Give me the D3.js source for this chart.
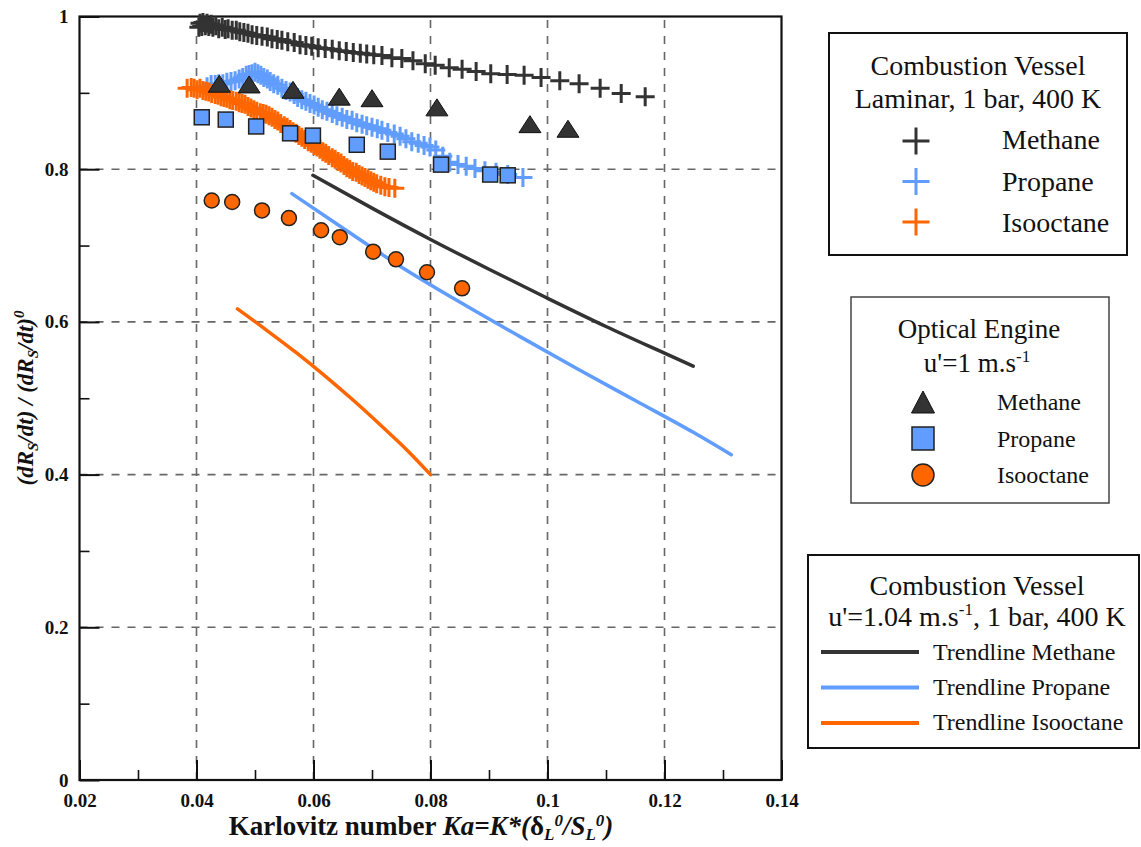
<!DOCTYPE html>
<html><head><meta charset="utf-8">
<script src="https://cdn.jsdelivr.net/npm/d3@7/dist/d3.min.js"></script>
<style>
body{margin:0;background:#fff;}
svg{display:block;font-family:"Liberation Serif","Times New Roman",serif;}
</style></head><body>
<svg id="chart" width="1141" height="847"></svg>
<script>
// ---------------- DATA ----------------
const xTicks = [0.02,0.04,0.06,0.08,0.1,0.12,0.14];
const xTickLabels = ["0.02","0.04","0.06","0.08","0.1","0.12","0.14"];
const xMinorTicks = [0.03,0.05,0.07,0.09,0.11,0.13];
const yTicks = [0,0.2,0.4,0.6,0.8,1];
const yTickLabels = ["0","0.2","0.4","0.6","0.8","1"];
const yMinorTicks = [0.1,0.3,0.5,0.7,0.9];
const xGrid = [0.04,0.06,0.08,0.1,0.12];
const yGrid = [0.2,0.4,0.6,0.8];

// Combustion vessel, laminar (crosses)
const laminarMethane = [[0.0404,0.986],[0.0406,0.991],[0.0409,0.987],[0.0411,0.992],[0.0415,0.988],[0.0418,0.991],[0.0421,0.987],[0.0425,0.990],[0.0428,0.986],[0.0433,0.988],[0.0438,0.984],[0.0444,0.986],[0.0449,0.983],[0.0454,0.984],[0.0461,0.982],[0.0468,0.982],[0.0474,0.980],[0.0481,0.979],[0.0488,0.978],[0.0495,0.976],[0.0503,0.975],[0.0512,0.974],[0.0521,0.973],[0.0529,0.971],[0.0538,0.970],[0.0546,0.969],[0.0556,0.967],[0.0567,0.966],[0.0577,0.963],[0.0587,0.962],[0.0597,0.961],[0.0608,0.959],[0.0620,0.958],[0.0632,0.957],[0.0644,0.955],[0.0656,0.954],[0.0668,0.953],[0.0680,0.952],[0.0691,0.951],[0.0703,0.950],[0.0717,0.949],[0.0734,0.946],[0.0751,0.945],[0.0770,0.942],[0.0791,0.938],[0.0808,0.936],[0.0832,0.933],[0.0854,0.931],[0.0878,0.928],[0.0903,0.925],[0.0931,0.924],[0.0960,0.923],[0.0989,0.920],[0.1021,0.916],[0.1054,0.912],[0.1090,0.906],[0.1126,0.899],[0.1167,0.895]];
const laminarPropane = [[0.0418,0.908],[0.0425,0.911],[0.0432,0.911],[0.0438,0.912],[0.0445,0.912],[0.0452,0.914],[0.0459,0.915],[0.0466,0.916],[0.0473,0.918],[0.0479,0.920],[0.0485,0.923],[0.0490,0.924],[0.0495,0.925],[0.0500,0.927],[0.0505,0.925],[0.0510,0.923],[0.0515,0.920],[0.0521,0.918],[0.0526,0.915],[0.0532,0.912],[0.0539,0.910],[0.0546,0.906],[0.0553,0.903],[0.0560,0.901],[0.0567,0.898],[0.0573,0.894],[0.0580,0.891],[0.0587,0.889],[0.0594,0.886],[0.0601,0.884],[0.0608,0.881],[0.0615,0.878],[0.0623,0.876],[0.0632,0.873],[0.0640,0.870],[0.0649,0.868],[0.0657,0.865],[0.0666,0.864],[0.0674,0.861],[0.0683,0.859],[0.0691,0.857],[0.0700,0.855],[0.0709,0.853],[0.0717,0.851],[0.0727,0.848],[0.0738,0.846],[0.0748,0.843],[0.0758,0.840],[0.0768,0.836],[0.0779,0.834],[0.0789,0.831],[0.0799,0.829],[0.0809,0.825],[0.0821,0.817],[0.0833,0.809],[0.0847,0.806],[0.0861,0.804],[0.0876,0.801],[0.0893,0.798],[0.0912,0.796],[0.0932,0.793],[0.0958,0.789]];
const laminarIsooctane = [[0.0384,0.906],[0.0391,0.907],[0.0396,0.906],[0.0401,0.904],[0.0406,0.906],[0.0411,0.903],[0.0416,0.902],[0.0421,0.901],[0.0426,0.899],[0.0432,0.898],[0.0437,0.897],[0.0442,0.895],[0.0447,0.894],[0.0452,0.893],[0.0457,0.891],[0.0462,0.890],[0.0468,0.889],[0.0473,0.887],[0.0478,0.886],[0.0483,0.885],[0.0488,0.882],[0.0493,0.880],[0.0498,0.878],[0.0503,0.876],[0.0509,0.874],[0.0514,0.873],[0.0519,0.872],[0.0524,0.870],[0.0529,0.868],[0.0534,0.865],[0.0539,0.863],[0.0544,0.860],[0.0550,0.857],[0.0555,0.855],[0.0560,0.852],[0.0565,0.849],[0.0570,0.847],[0.0575,0.844],[0.0580,0.842],[0.0585,0.839],[0.0591,0.836],[0.0596,0.834],[0.0601,0.831],[0.0606,0.829],[0.0611,0.826],[0.0616,0.823],[0.0621,0.821],[0.0626,0.818],[0.0632,0.815],[0.0637,0.813],[0.0642,0.810],[0.0647,0.808],[0.0652,0.805],[0.0657,0.802],[0.0662,0.800],[0.0667,0.797],[0.0673,0.796],[0.0678,0.793],[0.0683,0.791],[0.0688,0.789],[0.0693,0.787],[0.0698,0.785],[0.0703,0.783],[0.0708,0.781],[0.0715,0.779],[0.0722,0.777],[0.0729,0.776],[0.0739,0.775]];

// Optical engine, u'=1 m/s
const engineMethane = [[0.0439,0.912],[0.0490,0.911],[0.0565,0.904],[0.0644,0.895],[0.0700,0.893],[0.0811,0.881],[0.0970,0.859],[0.1035,0.853]];
const enginePropane = [[0.0409,0.868],[0.0450,0.865],[0.0502,0.856],[0.0560,0.847],[0.0599,0.844],[0.0674,0.832],[0.0727,0.823],[0.0818,0.806],[0.0902,0.793],[0.0932,0.792]];
const engineIsooctane = [[0.0426,0.759],[0.0461,0.757],[0.0512,0.746],[0.0558,0.736],[0.0613,0.720],[0.0645,0.711],[0.0702,0.692],[0.0741,0.682],[0.0794,0.665],[0.0854,0.644]];

// Combustion vessel, turbulent trendlines
const trendMethane = [[0.0599,0.792],[0.0700,0.749],[0.0800,0.708],[0.0900,0.669],[0.1000,0.631],[0.1100,0.594],[0.1200,0.559],[0.1249,0.542]];
const trendPropane = [[0.0563,0.768],[0.0650,0.723],[0.0750,0.672],[0.0850,0.626],[0.0950,0.582],[0.1050,0.539],[0.1150,0.497],[0.1250,0.455],[0.1314,0.426]];
const trendIsooctane = [[0.0470,0.617],[0.0520,0.589],[0.0570,0.560],[0.0620,0.529],[0.0670,0.496],[0.0720,0.461],[0.0760,0.432],[0.0800,0.400]];

const fuelNames = ["Methane","Propane","Isooctane"];
const fuelColors = ["#333333","#619cff","#ff6600"];
const legend1Title = ["Combustion Vessel","Laminar, 1 bar, 400 K"];
const legend2Title = ["Optical Engine","u'=1 m.s"];
const legend3Title = ["Combustion Vessel","u'=1.04 m.s"];
const legend3Lines = ["Trendline Methane","Trendline Propane","Trendline Isooctane"];

// ---------------- CHART ----------------
const svg = d3.select("#chart");
const X0 = 79.5, X1 = 781.5, Y0 = 16.5, Y1 = 780;
const x = d3.scaleLinear().domain([0.02,0.14]).range([X0,X1]);
const y = d3.scaleLinear().domain([0,1]).range([Y1,Y0]);
const ink = "#111";

// grid
const grid = svg.append("g").attr("stroke","#666").attr("stroke-width",1.6).attr("stroke-dasharray","8,8");
grid.selectAll(".gx").data(xGrid).join("line").attr("x1",d=>x(d)).attr("x2",d=>x(d)).attr("y1",Y1).attr("y2",Y0);
grid.selectAll(".gy").data(yGrid).join("line").attr("y1",d=>y(d)).attr("y2",d=>y(d)).attr("x1",X0).attr("x2",X1);

// axes
function styleAxis(g, w){
  g.select(".domain").remove();
  g.selectAll(".tick line").attr("stroke",ink).attr("stroke-width",w);
  g.selectAll(".tick text").attr("fill",ink).attr("font-weight","bold").attr("font-size",19)
    .attr("font-family","'Liberation Serif','Times New Roman',serif");
}
svg.append("g").attr("transform",`translate(0,${Y1})`)
  .call(d3.axisBottom(x).tickValues(xTicks).tickSize(-20).tickPadding(14).tickFormat((d,i)=>xTickLabels[i]))
  .call(g=>styleAxis(g,2));
svg.append("g").attr("transform",`translate(0,${Y1})`)
  .call(d3.axisBottom(x).tickValues(xMinorTicks).tickSize(-10).tickFormat(""))
  .call(g=>styleAxis(g,1.6));
svg.append("g").attr("transform",`translate(${X0},0)`)
  .call(d3.axisLeft(y).tickValues(yTicks).tickSize(-20).tickPadding(11).tickFormat((d,i)=>yTickLabels[i]))
  .call(g=>styleAxis(g,2));
svg.append("g").attr("transform",`translate(${X0},0)`)
  .call(d3.axisLeft(y).tickValues(yMinorTicks).tickSize(-10).tickFormat(""))
  .call(g=>styleAxis(g,1.6));

// frame
svg.append("rect").attr("x",X0).attr("y",Y0).attr("width",X1-X0).attr("height",Y1-Y0)
  .attr("fill","none").attr("stroke",ink).attr("stroke-width",2.2);

// trendlines
const line = d3.line().x(d=>x(d[0])).y(d=>y(d[1])).curve(d3.curveMonotoneX);
[trendMethane,trendPropane,trendIsooctane].forEach((s,i)=>{
  svg.append("path").datum(s).attr("d",line).attr("fill","none")
    .attr("stroke",fuelColors[i]).attr("stroke-width",3.5).attr("stroke-linecap","round");
});

// crosses
const crossPath = r => `M${-r},0H${r}M0,${-r}V${r}`;
[laminarMethane,laminarPropane,laminarIsooctane].forEach((s,i)=>{
  svg.append("g").selectAll("path").data(s).join("path")
    .attr("transform",d=>`translate(${x(d[0])},${y(d[1])})`)
    .attr("d",crossPath(9.5)).attr("stroke",fuelColors[i]).attr("stroke-width",3).attr("fill","none");
});

// engine markers
const tri = (w,h)=>`M0,${-h/2}L${w/2},${h/2}L${-w/2},${h/2}Z`;
svg.append("g").selectAll("path").data(engineMethane).join("path")
  .attr("transform",d=>`translate(${x(d[0])},${y(d[1])})`).attr("d",tri(22,17))
  .attr("fill","#333").attr("stroke","#111").attr("stroke-width",1);
svg.append("g").selectAll("rect").data(enginePropane).join("rect")
  .attr("x",d=>x(d[0])-7.5).attr("y",d=>y(d[1])-7.5).attr("width",15).attr("height",15)
  .attr("fill","#619cff").attr("stroke","#222").attr("stroke-width",1.5);
svg.append("g").selectAll("circle").data(engineIsooctane).join("circle")
  .attr("cx",d=>x(d[0])).attr("cy",d=>y(d[1])).attr("r",7.5)
  .attr("fill","#ff6600").attr("stroke","#222").attr("stroke-width",1.5);

// axis titles
const yt = svg.append("text").attr("transform","translate(33,398) rotate(-90)")
  .attr("text-anchor","middle").attr("font-weight","bold").attr("font-style","italic")
  .attr("font-size",23).attr("fill",ink);
yt.append("tspan").text("(dR");
yt.append("tspan").text("S").attr("font-size",15).attr("dy",5);
yt.append("tspan").text("/dt) / (dR").attr("dy",-5);
yt.append("tspan").text("S").attr("font-size",15).attr("dy",5);
yt.append("tspan").text("/dt)").attr("dy",-5);
yt.append("tspan").text("0").attr("font-size",15).attr("dy",-9);

const xt = svg.append("text").attr("x",421).attr("y",835).attr("text-anchor","middle")
  .attr("font-weight","bold").attr("font-size",27).attr("fill",ink);
xt.append("tspan").text("Karlovitz number ");
xt.append("tspan").text("Ka=K*(").attr("font-style","italic");
xt.append("tspan").text("δ");
xt.append("tspan").text("L").attr("font-style","italic").attr("font-size",17).attr("dy",5);
xt.append("tspan").text("0").attr("font-style","italic").attr("font-size",17).attr("dy",-14);
xt.append("tspan").text("/S").attr("font-style","italic").attr("dy",9);
xt.append("tspan").text("L").attr("font-style","italic").attr("font-size",17).attr("dy",5);
xt.append("tspan").text("0").attr("font-style","italic").attr("font-size",17).attr("dy",-14);
xt.append("tspan").text(")").attr("font-style","italic").attr("dy",9);

// ---------------- LEGENDS ----------------
// legend 1
const L1 = svg.append("g");
L1.append("rect").attr("x",829).attr("y",33).attr("width",298).attr("height",222)
  .attr("fill","#fff").attr("stroke",ink).attr("stroke-width",2);
L1.selectAll(".t").data(legend1Title).join("text").attr("x",978).attr("y",(d,i)=>75+i*33)
  .attr("text-anchor","middle").attr("font-size",28).attr("fill",ink).text(d=>d);
fuelNames.forEach((n,i)=>{
  L1.append("path").attr("transform",`translate(916,${141+i*40.5})`).attr("d",crossPath(13.5))
    .attr("stroke",fuelColors[i]).attr("stroke-width",3);
  L1.append("text").attr("x",1002).attr("y",149+i*41.5).attr("font-size",28).attr("fill",ink).text(n);
});

// legend 2
const L2 = svg.append("g");
L2.append("rect").attr("x",851).attr("y",297).attr("width",258).attr("height",206)
  .attr("fill","#fff").attr("stroke","#444").attr("stroke-width",1.5);
L2.append("text").attr("x",979).attr("y",338).attr("text-anchor","middle").attr("font-size",27).attr("fill",ink).text(legend2Title[0]);
const l2b = L2.append("text").attr("x",977).attr("y",372).attr("text-anchor","middle").attr("font-size",27).attr("fill",ink);
l2b.append("tspan").text(legend2Title[1]);
l2b.append("tspan").text("-1").attr("font-size",17).attr("dy",-10);
L2.append("path").attr("transform","translate(923,402)").attr("d",tri(23,22)).attr("fill","#333").attr("stroke","#111");
L2.append("rect").attr("x",912).attr("y",427).attr("width",22).attr("height",23).attr("fill","#619cff").attr("stroke","#222").attr("stroke-width",1.5);
L2.append("circle").attr("cx",923).attr("cy",475).attr("r",11).attr("fill","#ff6600").attr("stroke","#222").attr("stroke-width",1.5);
fuelNames.forEach((n,i)=>{
  L2.append("text").attr("x",997).attr("y",410+i*36.5).attr("font-size",24).attr("fill",ink).text(n);
});

// legend 3
const L3 = svg.append("g");
L3.append("rect").attr("x",808).attr("y",555).attr("width",331).attr("height",193)
  .attr("fill","#fff").attr("stroke",ink).attr("stroke-width",2);
L3.append("text").attr("x",977).attr("y",595).attr("text-anchor","middle").attr("font-size",28).attr("fill",ink).text(legend3Title[0]);
const l3b = L3.append("text").attr("x",977).attr("y",626).attr("text-anchor","middle").attr("font-size",28).attr("fill",ink);
l3b.append("tspan").text(legend3Title[1]);
l3b.append("tspan").text("-1").attr("font-size",17).attr("dy",-11);
l3b.append("tspan").text(", 1 bar, 400 K").attr("dy",11);
legend3Lines.forEach((n,i)=>{
  L3.append("line").attr("x1",821).attr("x2",919).attr("y1",652+i*35.5).attr("y2",652+i*35.5)
    .attr("stroke",fuelColors[i]).attr("stroke-width",4);
  L3.append("text").attr("x",933).attr("y",660+i*35).attr("font-size",24).attr("fill",ink).text(n);
});
</script>
</body></html>
